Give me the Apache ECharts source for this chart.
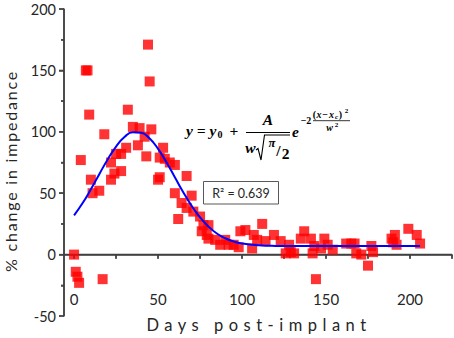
<!DOCTYPE html>
<html>
<head>
<meta charset="utf-8">
<script src="https://cdn.jsdelivr.net/npm/echarts@6.0.0/dist/echarts.min.js"></script>
<style>
  html, body { margin: 0; padding: 0; background: #fff; }
  #chart { width: 454px; height: 338px; }
  /* the axis titles in the original are letter-spaced */
  #chart text[style*="16.5px"] { letter-spacing: 5.5px; }
  #chart text[style*="16px"] { letter-spacing: 1.8px; }
</style>
</head>
<body>
<div id="chart"></div>
<script>
// measured points: days after implant, % change in impedance
const days = [0, 1, 2, 3, 4, 7, 8, 9, 10, 11, 15, 17, 18, 22, 22, 24, 25, 28, 28, 31,
  32, 35, 38, 39, 42, 43, 44, 45, 46, 50, 51, 51, 53, 54, 57, 60, 60, 62, 64, 67,
  67, 70, 71, 75, 76, 77, 79, 80, 80, 84, 87, 90, 92, 95, 98, 99, 102, 106, 107, 109,
  112, 114, 119, 123, 126, 128, 129, 131, 135, 137, 141, 142, 143, 144, 147, 149, 151, 154, 162, 165,
  167, 168, 171, 175, 177, 178, 189, 190, 191, 192, 199, 204, 206];
const change = [0, -14, -18, -23, 77, 150, 150, 114, 61, 50, 52, -20, 98, 75, 61, 66, 82, 82, 68, 87,
  118, 104, 89, 103, 96, 80, 171, 141, 102, 61, 63, 79, 87, 78, 75, 73, 50, 29, 42, 64,
  38, 48, 35, 31, 19, 24, 16, 24, 13, 12, 8, 12, 8, 8, 6, 19, 20, 5, 16, 12,
  25, 11, 16, 11, 1, 8, 2, 1, 13, 19, 13, 1, 7, -20, 5, 13, 8, 4, 9, 9,
  9, 1, 0, -9, 7, 2, 13, 10, 16, 8, 21, 16, 9];

// Gaussian fit curve
const fitDays = [0, 5, 10, 15, 20, 25, 30, 35, 40, 45, 50, 55, 60, 65, 70, 75, 80, 85, 90, 95,
  100, 110, 120, 130, 150, 170, 190, 206];
const fitChange = [32, 41.8, 53.2, 65.5, 77.5, 88, 95.7, 99.6, 99.2, 94.5, 86.1, 75.2, 63, 50.8, 39.7, 30.3, 22.8, 17.2, 13.3, 10.7,
  9.1, 7.6, 7.1, 7, 7, 7, 7, 7];

const xLabels = [0, 50, 100, 150, 200];
const xTicks = [0, 25, 50, 75, 100, 125, 150, 175, 200, 225];
const yTicks = [-50, 0, 50, 100, 150, 200];
const yMinorTicks = [-25, 25, 75, 125, 175];
const xMin = -6, xMax = 225, yMin = -50, yMax = 200;

const axisColor = '#404040';
const textColor = '#262626';
const sans = 'Lato';
const serif = 'Liberation Serif';

function mathText(x, y, s, size, extra) {
  return {
    type: 'text', x: x, y: y, z: 100,
    style: Object.assign({
      text: s, fontSize: size, fontFamily: serif, fontWeight: 'bold', fontStyle: 'italic',
      fill: '#000', align: 'center', verticalAlign: 'middle',
      textAlign: 'center', textVerticalAlign: 'middle'
    }, extra || {})
  };
}

function plainText(x, y, s, size, rotation) {
  return {
    type: 'text', x: x, y: y, rotation: rotation || 0, z: 100,
    style: {
      text: s, fontSize: size, fontFamily: sans, fill: textColor,
      align: 'center', verticalAlign: 'middle', textAlign: 'center', textVerticalAlign: 'middle'
    }
  };
}

// axis line drawn as a plain series (the built-in axis lines did not show up here)
function axisLineSeries(pts) {
  return {
    type: 'line', data: pts, showSymbol: false, silent: true, clip: false, z: 1,
    lineStyle: { color: axisColor, width: 1.5 }
  };
}

function tickSeries(pts, size, offset) {
  return {
    type: 'scatter', data: pts, symbol: 'rect', symbolSize: size, symbolOffset: offset,
    silent: true, clip: false, z: 1, itemStyle: { color: axisColor }
  };
}

const chart = echarts.init(document.getElementById('chart'), null, { renderer: 'svg' });

chart.setOption({
  animation: false,
  grid: { left: 64, right: 2, top: 9, bottom: 22, outerBoundsMode: 'none' },
  xAxis: {
    type: 'value', min: xMin, max: xMax,
    axisLine: { show: true, onZero: true, lineStyle: { color: axisColor, width: 1.5 } },
    axisTick: { show: true, length: 4, customValues: xTicks, lineStyle: { color: axisColor, width: 1.5 } },
    axisLabel: { customValues: xLabels, margin: -25, fontFamily: sans, fontSize: 15, color: textColor },
    splitLine: { show: false }
  },
  yAxis: {
    type: 'value', min: yMin, max: yMax, interval: 50,
    axisLine: { show: true, onZero: false, lineStyle: { color: axisColor, width: 1.5 } },
    axisTick: { show: true, length: 5, lineStyle: { color: axisColor, width: 1.5 } },
    minorTick: { show: true, splitNumber: 2, length: 3, lineStyle: { color: axisColor, width: 1.5 } },
    axisLabel: { fontFamily: sans, fontSize: 14.5, color: textColor },
    splitLine: { show: false }
  },
  series: [
    axisLineSeries([[xMin, 0], [xMax, 0]]),
    axisLineSeries([[xMin, yMin], [xMin, yMax]]),
    tickSeries(xTicks.map(v => [v, 0]), [1.5, 4], [0, 2.5]),
    tickSeries(yTicks.map(v => [xMin, v]), [5, 1.5], [-2.5, 0]),
    tickSeries(yMinorTicks.map(v => [xMin, v]), [3, 1.5], [-1.5, 0]),
    {
      type: 'scatter',
      symbol: 'rect',
      symbolSize: 10,
      itemStyle: { color: '#ff0000' },
      data: days.map((d, i) => [d, change[i]]),
      z: 2
    },
    {
      type: 'line',
      smooth: true,
      showSymbol: false,
      lineStyle: { color: '#0000ff', width: 2 },
      data: fitDays.map((d, i) => [d, fitChange[i]]),
      z: 3
    }
  ],
  graphic: [
    // axis titles
    plainText(10, 171, '% change in impedance', 16, Math.PI / 2),
    plainText(259, 324.5, 'Days post-implant', 16.5),
    // fit equation
    mathText(186, 130, 'y = y', 15.5, { align: 'left', textAlign: 'left' }),
    mathText(220, 134.5, '0', 10, { fontStyle: 'normal' }),
    mathText(234, 130, '+', 15.5, { fontStyle: 'normal' }),
    { type: 'line', z: 100, shape: { x1: 246, y1: 132.5, x2: 290, y2: 132.5 }, style: { stroke: '#000', lineWidth: 1.2 } },
    mathText(268, 119, 'A', 15.5),
    mathText(250.5, 147, 'w', 15.5),
    { type: 'polyline', z: 100, shape: { points: [[256, 150], [258, 148.5], [261, 160], [264.5, 135], [290, 135]] }, style: { stroke: '#000', lineWidth: 1.1, fill: 'none' } },
    mathText(272, 143, 'π', 12.5),
    mathText(278.5, 150, '/', 15.5, { fontStyle: 'normal' }),
    mathText(285.5, 153, '2', 15.5, { fontStyle: 'normal' }),
    mathText(295.5, 131, 'e', 15.5),
    mathText(306, 120.5, '−2', 10, { fontStyle: 'normal' }),
    mathText(314.3, 114, '(', 10, { fontStyle: 'normal' }),
    mathText(319, 114, 'x', 10),
    mathText(325, 114, '−', 10, { fontStyle: 'normal' }),
    mathText(331.5, 114, 'x', 10),
    mathText(336.5, 116.5, 'c', 7),
    mathText(340.5, 114, ')', 10, { fontStyle: 'normal' }),
    mathText(346.5, 110.5, '2', 7, { fontStyle: 'normal' }),
    { type: 'line', z: 100, shape: { x1: 313, y1: 120.7, x2: 350, y2: 120.7 }, style: { stroke: '#000', lineWidth: 0.8 } },
    mathText(329.5, 127.5, 'w', 10),
    mathText(336.5, 124.5, '2', 7, { fontStyle: 'normal' }),
    // R² box
    { type: 'rect', z: 100, shape: { x: 203.5, y: 181.5, width: 75, height: 22.5 }, style: { fill: '#fff', stroke: '#595959', lineWidth: 1 } },
    plainText(241, 193, 'R² = 0.639', 12.5)
  ]
});
</script>
</body>
</html>
